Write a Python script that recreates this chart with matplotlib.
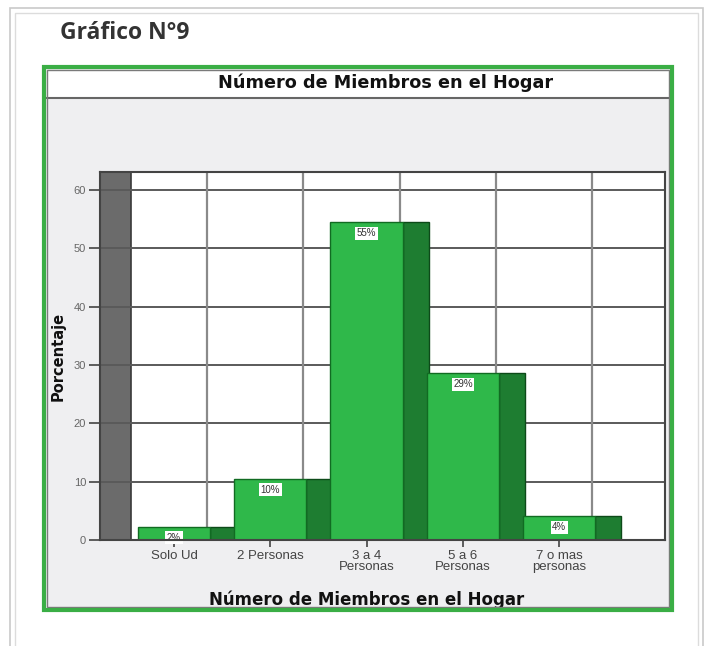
import matplotlib
matplotlib.use("Agg")
import matplotlib.pyplot as plt
from matplotlib.patches import Rectangle
from matplotlib.lines import Line2D

# ---- data ----
categories = ["Solo Ud", "2 Personas", "3 a 4\nPersonas", "5 a 6\nPersonas", "7 o mas\npersonas"]
values = [2.3, 10.5, 54.5, 28.6, 4.1]
value_labels = ["2%", "10%", "55%", "29%", "4%"]
yticks = [0, 10, 20, 30, 40, 50, 60]
title_main = "Número de Miembros en el Hogar"
xlabel = "Número de Miembros en el Hogar"
ylabel = "Porcentaje"
header = "Gráfico N°9"

W, H = 707, 646
fig = plt.figure(figsize=(W / 100, H / 100), dpi=100)
fig.patch.set_facecolor("white")

def fx(x):
    return x / W

def fy(y):
    return 1 - y / H

def rect_px(x0, y0, x1, y1, z=0.1, **kw):
    r = Rectangle((fx(x0), fy(y1)), fx(x1) - fx(x0), fy(y0) - fy(y1),
                  transform=fig.transFigure, zorder=z, **kw)
    fig.add_artist(r)
    return r

# outer light frame
rect_px(10, 8, 703, 660, facecolor="white", edgecolor="#c9c9c9", lw=1.2)
rect_px(15, 13, 698, 660, facecolor="none", edgecolor="#dcdcdc", lw=1.0)

fig.text(fx(60), fy(33), header, fontsize=16.5, fontweight="bold",
         family="Open Sans", color="#333333", ha="left", va="center")

# chart box: gray background, white title band, green border
rect_px(44, 67, 672, 610, facecolor="#efeff1", edgecolor="none")
rect_px(47, 70, 669, 97, facecolor="white", edgecolor="none")
fig.add_artist(Line2D([fx(47), fx(669)], [fy(97.5), fy(97.5)],
                      transform=fig.transFigure, color="#666666", lw=1.5, zorder=0.2))
rect_px(47, 70, 669, 607, z=20, facecolor="none", edgecolor="#7a7a7a", lw=1.0)
rect_px(44, 67, 672, 610, z=21, facecolor="none", edgecolor="#3aae45", lw=3)

fig.text(fx(386), fy(83), title_main, fontsize=12.7, fontweight="bold",
         family="DejaVu Sans", color="#111111", ha="center", va="center")

# ---- axes ----
ax_l, ax_r, ax_t, ax_b = 100, 665, 172, 540
ax = fig.add_axes([fx(ax_l), fy(ax_b), fx(ax_r) - fx(ax_l), fy(ax_t) - fy(ax_b)])
ax.set_zorder(5)
unit = 96.3
x0 = 174
ax.set_xlim((ax_l - x0) / unit, (ax_r - x0) / unit)
ax.set_ylim(0, (ax_b - ax_t) / 5.833)
ax.set_facecolor("white")

# left 3D wall
wall_r = (131 - x0) / unit
ax.add_patch(Rectangle((ax.get_xlim()[0], 0), wall_r - ax.get_xlim()[0], ax.get_ylim()[1],
                       facecolor="#6b6b6b", edgecolor="#3a3a3a", lw=1.2, zorder=1))

# grid
for t in yticks[1:]:
    ax.axhline(t, color="#5a5a5a", lw=1.4, zorder=2)
for i in range(len(categories)):
    ax.axvline(i + 0.343, color="#8a8a8a", lw=1.6, zorder=2)

# bars: front face and dark side
front_w = 0.75
side_w = 0.27
xs = list(range(len(categories)))
ax.bar([x + front_w / 2 + side_w / 2 for x in xs], values, width=side_w,
       color="#1e7d31", edgecolor="#0d4a19", lw=1.0, zorder=3)
ax.bar(xs, values, width=front_w, color="#2fb84a", edgecolor="#116b22", lw=1.0, zorder=4)

for x, v, lab in zip(xs, values, value_labels):
    ax.text(x, v - 1.9, lab, fontsize=7, color="#333333", ha="center", va="center",
            family="Liberation Sans", zorder=6,
            bbox=dict(boxstyle="square,pad=0.15", facecolor="white", edgecolor="none"))

ax.set_xticks(xs)
ax.set_xticklabels(categories, fontsize=9.5, family="Liberation Sans", color="#444444",
                   linespacing=0.95)
ax.set_yticks(yticks)
ax.set_yticklabels([str(t) for t in yticks], fontsize=8, family="Liberation Sans", color="#666666")
ax.tick_params(axis="x", length=5, width=1.2, color="#444444", pad=2)
ax.tick_params(axis="y", length=8, width=1.2, color="#444444", pad=2)
for s in ax.spines.values():
    s.set_color("#444444")
    s.set_linewidth(1.5)
    s.set_zorder(7)

fig.text(fx(367), fy(600), xlabel, fontsize=12, fontweight="bold",
         family="DejaVu Sans", color="#111111", ha="center", va="center")
fig.text(fx(58), fy(356), ylabel, fontsize=10.5, fontweight="bold", rotation=90,
         family="DejaVu Sans", color="#111111", ha="center", va="center")

fig.savefig("out.png", dpi=100, facecolor="white")
